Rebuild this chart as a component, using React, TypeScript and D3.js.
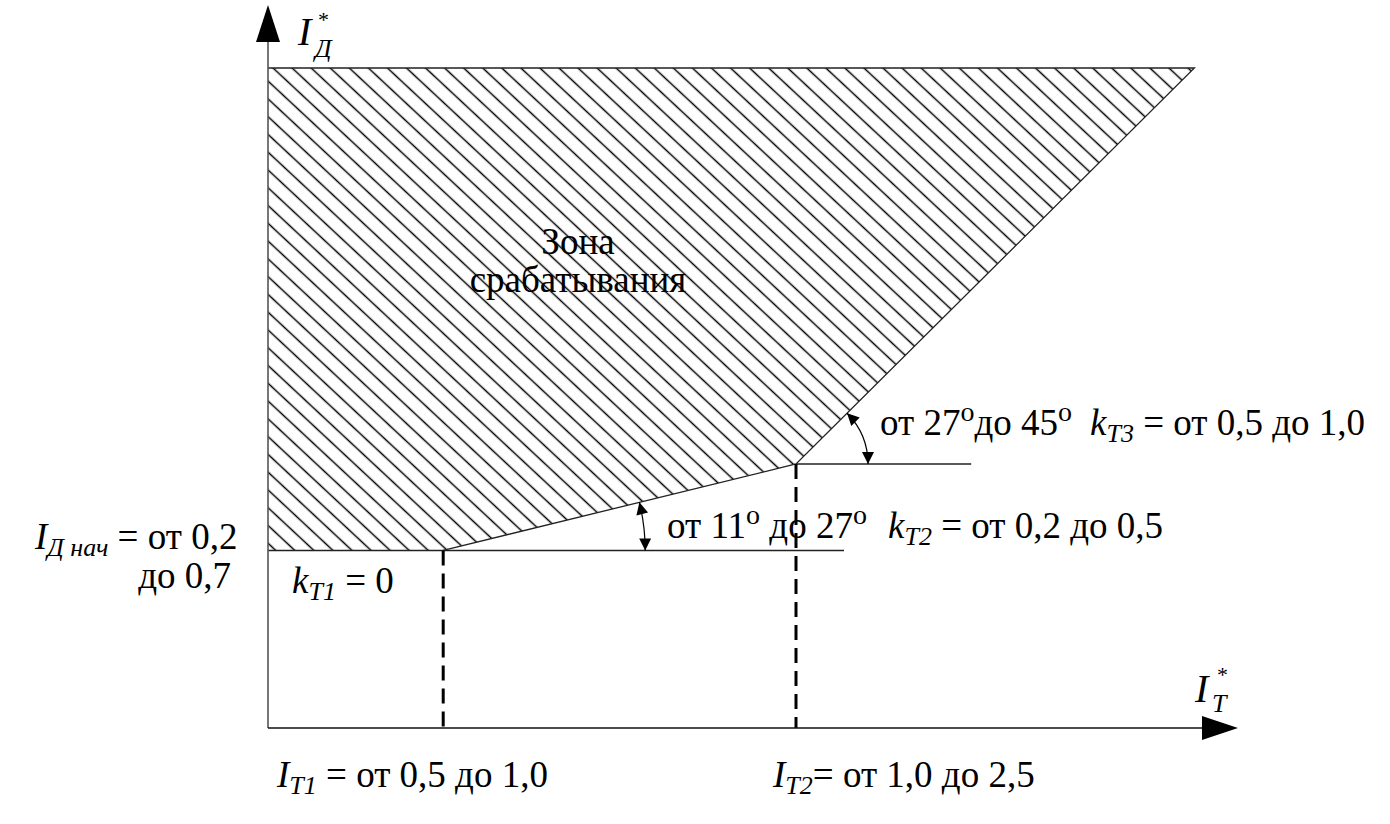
import React from "react";
import * as d3 from "d3";

// ---- data (chart units) ----
const xDomain = [0, 4];
const yDomain = [0, 3];
const charX = [0, 0.73, 2.2, 3.86]; // breakpoints of the characteristic
const charY = [0.74, 0.74, 1.1, 2.75];
const topY = 2.75;
const refLineEndX = [2.4, 2.93]; // end of horizontal reference lines at breakpoints 1 and 2
const dashedX = [0.73, 2.2];

const zoneLabel = ["Зона", "срабатывания"];
const slope2 = ["от 11", " до 27"];
const slope3 = ["от 27", "до 45"];
const k1Text = " = 0";
const k2Text = " = от 0,2 до 0,5";
const k3Text = " = от 0,5 до 1,0";
const it1Text = " = от 0,5 до 1,0";
const it2Text = "= от 1,0 до 2,5";
const idStart = [" = от 0,2", "до 0,7"];

const W = 1390;
const H = 824;
const FONT = "'Liberation Serif', 'Times New Roman', serif";
const FS = 37;
const SUB = 26;

type Seg = { t: string; it?: boolean; fs?: number; off?: number };

function Rich({ x, y, segs, fs = FS, anchor = "start" }: { x: number; y: number; segs: Seg[]; fs?: number; anchor?: string }) {
  let cur = 0;
  return (
    <text x={x} y={y} fontFamily={FONT} fontSize={fs} textAnchor={anchor} fill="#000" style={{ whiteSpace: "pre" }}>
      {segs.map((s, i) => {
        const target = s.off || 0;
        const dy = target - cur;
        cur = target;
        return (
          <tspan key={i} dy={dy} fontStyle={s.it ? "italic" : "normal"} fontSize={s.fs || fs}>
            {s.t}
          </tspan>
        );
      })}
    </text>
  );
}

export default function App() {
  const x = d3.scaleLinear().domain(xDomain).range([268, 1228]);
  const y = d3.scaleLinear().domain(yDomain).range([728, 8]);

  const x0 = x(0);
  const y0 = y(0);

  const polyPts: [number, number][] = [
    [x(0), y(topY)],
    [x(charX[3]), y(charY[3])],
    [x(charX[2]), y(charY[2])],
    [x(charX[1]), y(charY[1])],
    [x(charX[0]), y(charY[0])],
  ];
  const poly = d3.line()(polyPts) + "Z";

  const boundary = d3.line()([
    [x(0), y(topY)],
    [x(charX[3]), y(charY[3])],
    [x(charX[2]), y(charY[2])],
    [x(charX[1]), y(charY[1])],
  ]);

  const arcPath = (cx: number, cy: number, r: number, ang: number) => {
    const p = d3.path();
    p.moveTo(cx + r, cy);
    p.arc(cx, cy, r, 0, -ang, true);
    return p.toString();
  };
  const ang2 = Math.atan2(y(charY[1]) - y(charY[2]), x(charX[2]) - x(charX[1]));
  const ang3 = Math.atan2(y(charY[2]) - y(charY[3]), x(charX[3]) - x(charX[2]));
  const sup = (t: string): Seg => ({ t, fs: 28, off: -14 });
  const sub = (t: string): Seg => ({ t, it: true, fs: SUB, off: 7 });

  return (
    <svg width={W} height={H} style={{ position: "absolute", left: 0, top: 0, background: "#fff" }}>
      <defs>
        <pattern id="hatch" patternUnits="userSpaceOnUse" width={13} height={13} patternTransform="rotate(43)">
          <line x1={-2} y1={6.5} x2={15} y2={6.5} stroke="#000" strokeWidth={1.5} />
        </pattern>
        <marker id="arr" viewBox="0 0 10 10" refX={10} refY={5} markerUnits="userSpaceOnUse" markerWidth={18} markerHeight={12} orient="auto-start-reverse">
          <path d="M0,0 L10,5 L0,10 Z" fill="#000" />
        </marker>
      </defs>
      <rect width={W} height={H} fill="#fff" />

      {/* hatched zone */}
      <path d={poly} fill="url(#hatch)" stroke="none" />

      {/* boundary */}
      <path d={boundary || ""} fill="none" stroke="#222" strokeWidth={1.3} />
      <line x1={x0} y1={y(charY[1])} x2={x(refLineEndX[0])} y2={y(charY[1])} stroke="#222" strokeWidth={1.5} />
      <line x1={x(charX[2])} y1={y(charY[2])} x2={x(refLineEndX[1])} y2={y(charY[2])} stroke="#222" strokeWidth={1.5} />

      {/* dashed verticals */}
      {dashedX.map((dx, i) => (
        <line key={i} x1={x(dx)} y1={y(charY[i + 1])} x2={x(dx)} y2={y0} stroke="#000" strokeWidth={3} strokeDasharray="15 8" />
      ))}

      {/* axes */}
      <line x1={x0} y1={y0} x2={x0} y2={40} stroke="#555" strokeWidth={1.6} />
      <path d={`M${x0 - 12},42 L${x0 + 12},42 L${x0},5 Z`} fill="#000" />
      <line x1={x0} y1={y0} x2={1204} y2={y0} stroke="#111" strokeWidth={1.6} />
      <path d={`M1202,${y0 - 12} L1202,${y0 + 12} L1238,${y0} Z`} fill="#000" />

      {/* angle arcs */}
      <path d={arcPath(x(charX[1]), y(charY[1]), 202, ang2)} fill="none" stroke="#000" strokeWidth={1.2} markerStart="url(#arr)" markerEnd="url(#arr)" />
      <path d={arcPath(x(charX[2]), y(charY[2]), 72, ang3)} fill="none" stroke="#000" strokeWidth={1.2} markerStart="url(#arr)" markerEnd="url(#arr)" />

      {/* axis labels */}
      <text x={298} y={45} fontFamily={FONT} fontSize={40} fontStyle="italic">I</text>
      <text x={318} y={27} fontFamily={FONT} fontSize={22}>*</text>
      <text x={315} y={57} fontFamily={FONT} fontSize={26} fontStyle="italic">Д</text>

      <text x={1195} y={702} fontFamily={FONT} fontSize={40} fontStyle="italic">I</text>
      <text x={1217} y={682} fontFamily={FONT} fontSize={22}>*</text>
      <text x={1212} y={712} fontFamily={FONT} fontSize={26} fontStyle="italic">T</text>

      {/* zone label */}
      <text x={578} y={254} fontFamily={FONT} fontSize={37} textAnchor="middle">{zoneLabel[0]}</text>
      <text x={578} y={292} fontFamily={FONT} fontSize={37} textAnchor="middle">{zoneLabel[1]}</text>

      {/* slope annotations */}
      <Rich x={880} y={435} segs={[{ t: slope3[0] }, sup("o"), { t: slope3[1] }, sup("o")]} />
      <Rich x={1090} y={435} segs={[{ t: "k", it: true }, sub("T3"), { t: k3Text }]} />

      <Rich x={667} y={538} segs={[{ t: slope2[0] }, sup("o"), { t: slope2[1] }, sup("o")]} />
      <Rich x={888} y={538} segs={[{ t: "k", it: true }, sub("T2"), { t: k2Text }]} />

      {/* start level */}
      <Rich x={35} y={549} segs={[{ t: "I", it: true }, sub("Д нач"), { t: idStart[0] }]} />
      <Rich x={231} y={588} anchor="end" segs={[{ t: idStart[1] }]} />
      <Rich x={292} y={593} segs={[{ t: "k", it: true }, sub("T1"), { t: k1Text }]} />

      {/* bottom labels */}
      <Rich x={277} y={787} segs={[{ t: "I", it: true }, sub("T1"), { t: it1Text }]} />
      <Rich x={773} y={787} segs={[{ t: "I", it: true }, sub("T2"), { t: it2Text }]} />
    </svg>
  );
}
